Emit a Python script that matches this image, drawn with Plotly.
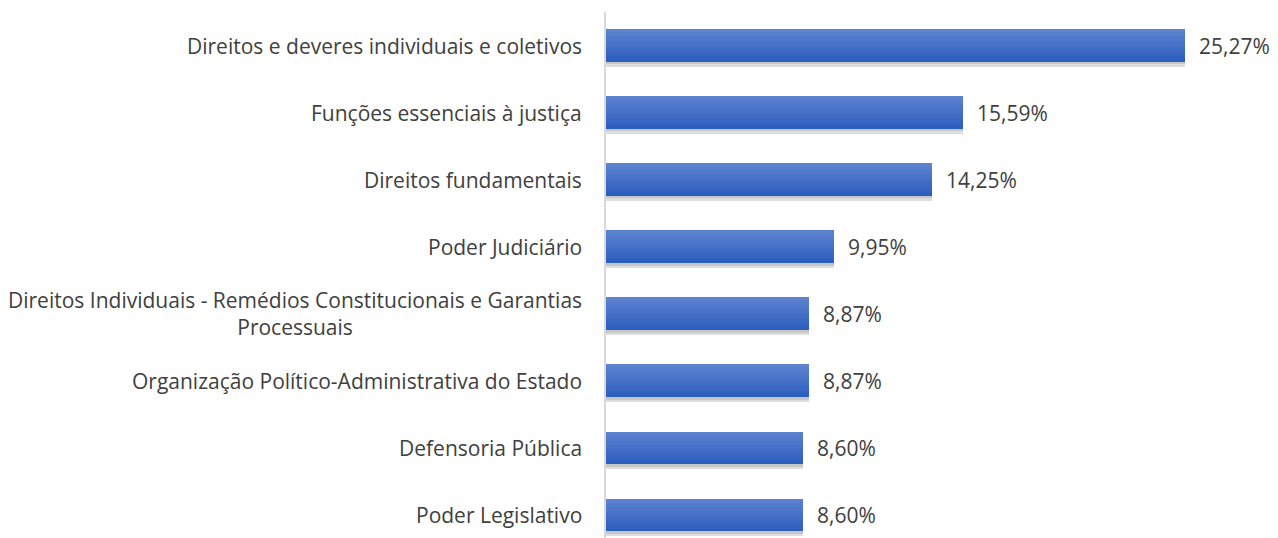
import plotly.graph_objects as go

categories = [
    "Direitos e deveres individuais e coletivos",
    "Funções essenciais à justiça",
    "Direitos fundamentais",
    "Poder Judiciário",
    "Direitos Individuais - Remédios Constitucionais e Garantias<br>Processuais",
    "Organização Político-Administrativa do Estado",
    "Defensoria Pública",
    "Poder Legislativo",
]
values = [25.27, 15.59, 14.25, 9.95, 8.87, 8.87, 8.60, 8.60]
value_labels = ["25,27%", "15,59%", "14,25%", "9,95%", "8,87%", "8,87%", "8,60%", "8,60%"]

FONT = "Open Sans"
TXT = "#404040"
BAR_W = 0.49
N = 12
top_rgb = (92, 130, 208)
bot_rgb = (44, 94, 190)

fig = go.Figure()

# shadow
fig.add_trace(go.Bar(
    y=categories, x=values, orientation="h", width=BAR_W,
    offset=-BAR_W / 2 + 0.07,
    marker=dict(color="rgba(0,0,0,0.13)", line=dict(width=0)),
    hoverinfo="skip", showlegend=False,
))
fig.add_trace(go.Bar(
    y=categories, x=values, orientation="h", width=BAR_W,
    offset=-BAR_W / 2 + 0.035,
    marker=dict(color="rgba(0,0,0,0.10)", line=dict(width=0)),
    hoverinfo="skip", showlegend=False,
))

# gradient strips
sw = BAR_W / N
for i in range(N):
    t = i / (N - 1)
    c = tuple(round(top_rgb[k] + (bot_rgb[k] - top_rgb[k]) * t) for k in range(3))
    fig.add_trace(go.Bar(
        y=categories, x=values, orientation="h", width=sw * 1.02,
        offset=-BAR_W / 2 + i * sw,
        marker=dict(color="rgb(%d,%d,%d)" % c, line=dict(width=0)),
        hoverinfo="skip", showlegend=False,
    ))

annotations = []
for cat, v, lab in zip(categories, values, value_labels):
    annotations.append(dict(
        x=v, y=cat, xref="x", yref="y", text=lab, showarrow=False,
        xanchor="left", xshift=12, font=dict(family=FONT, size=21, color=TXT),
    ))
    annotations.append(dict(
        x=0, y=cat, xref="paper", yref="y", text=cat, showarrow=False,
        xanchor="right", xshift=-22, align="center",
        font=dict(family=FONT, size=21, color=TXT),
    ))

fig.update_layout(
    width=1278, height=538,
    margin=dict(l=606, r=0, t=12, b=0),
    paper_bgcolor="white", plot_bgcolor="white",
    barmode="overlay", bargap=0,
    xaxis=dict(range=[0, 29.33], showgrid=False, zeroline=False,
               showticklabels=False, showline=False, fixedrange=True),
    yaxis=dict(type="category", categoryorder="array", categoryarray=categories,
               range=[7.343, -0.5], showgrid=False, zeroline=False,
               showticklabels=False, showline=True, linecolor="#d9d9d9",
               linewidth=2, fixedrange=True),
    annotations=annotations,
    font=dict(family=FONT, color=TXT),
)

fig.write_html("out.html")
